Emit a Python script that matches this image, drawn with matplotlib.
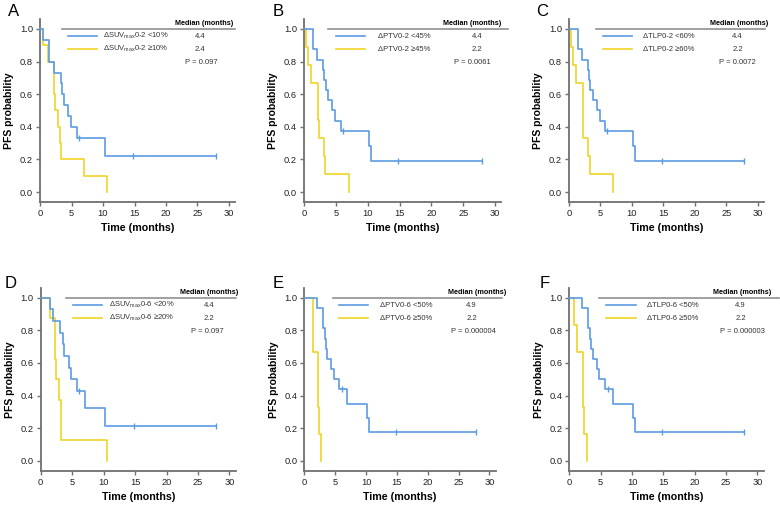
import numpy as np
import matplotlib
matplotlib.use('Agg')
import matplotlib.pyplot as plt

plt.rcParams['font.family'] = ['Liberation Sans', 'DejaVu Sans']
plt.rcParams['mathtext.fontset'] = 'custom'
plt.rcParams['mathtext.rm'] = 'Liberation Sans'
plt.rcParams['mathtext.it'] = 'Liberation Sans:italic'

# ---------------- data ----------------
panel_letters = ['A', 'B', 'C', 'D', 'E', 'F']
legend_low = ['ΔSUV$_{\\rm max}$0-2 <10%', 'ΔPTV0-2 <45%', 'ΔTLP0-2 <60%',
              'ΔSUV$_{\\rm max}$0-6 <20%', 'ΔPTV0-6 <50%', 'ΔTLP0-6 <50%']
legend_high = ['ΔSUV$_{\\rm max}$0-2 ≥10%', 'ΔPTV0-2 ≥45%', 'ΔTLP0-2 ≥60%',
               'ΔSUV$_{\\rm max}$0-6 ≥20%', 'ΔPTV0-6 ≥50%', 'ΔTLP0-6 ≥50%']
median_low = ['4.4', '4.4', '4.4', '4.4', '4.9', '4.9']
median_high = ['2.4', '2.2', '2.2', '2.2', '2.2', '2.2']
p_values = ['P = 0.097', 'P = 0.0061', 'P = 0.0072',
            'P = 0.097', 'P = 0.000004', 'P = 0.000003']
x_ticks = [0, 5, 10, 15, 20, 25, 30]
y_ticks = [0.0, 0.2, 0.4, 0.6, 0.8, 1.0]

# Panel A
A_low_t = [0.5, 1.4, 2.15, 3.3, 3.5, 3.75, 4.45, 4.9, 5.9, 10.3]
A_low_s = [0.933, 0.8, 0.733, 0.667, 0.6, 0.533, 0.467, 0.4, 0.333, 0.222]
A_low_cens = [6.2, 14.8, 27.9]
A_high_t = [0.4, 1.2, 2.2, 2.4, 2.8, 3.1, 3.3, 7.0, 10.6]
A_high_s = [0.9, 0.8, 0.6, 0.5, 0.4, 0.3, 0.2, 0.1, 0.0]

# Panel B
B_low_t = [1.4, 2.05, 2.95, 3.2, 3.4, 3.8, 4.45, 4.85, 5.75, 10.25, 10.5]
B_low_s = [0.875, 0.8125, 0.75, 0.6875, 0.625, 0.5625, 0.5, 0.4375, 0.375, 0.281, 0.1875]
B_low_cens = [6.1, 14.8, 27.9]
B_high_t = [0.3, 0.65, 1.15, 2.2, 2.35, 3.1, 3.35, 7.0]
B_high_s = [0.889, 0.778, 0.667, 0.444, 0.333, 0.222, 0.111, 0.0]

# Panel C
C_low_t = [1.4, 2.05, 2.95, 3.2, 3.4, 3.8, 4.45, 4.85, 5.75, 10.25, 10.5]
C_low_s = [0.875, 0.8125, 0.75, 0.6875, 0.625, 0.5625, 0.5, 0.4375, 0.375, 0.281, 0.1875]
C_low_cens = [6.1, 14.8, 27.9]
C_high_t = [0.25, 0.6, 1.1, 2.15, 2.3, 3.1, 3.35, 7.0]
C_high_s = [0.889, 0.778, 0.667, 0.444, 0.333, 0.222, 0.111, 0.0]

# Panel D
D_low_t = [1.4, 2.0, 3.05, 3.5, 3.7, 4.45, 4.85, 5.7, 7.0, 10.3]
D_low_s = [0.929, 0.857, 0.786, 0.714, 0.643, 0.571, 0.5, 0.429, 0.321, 0.214]
D_low_cens = [6.1, 14.8, 27.9]
D_high_t = [1.4, 2.2, 2.4, 2.9, 3.15, 3.3, 10.6]
D_high_s = [0.875, 0.625, 0.5, 0.375, 0.25, 0.125, 0.0]

# Panel E
E_low_t = [2.0, 3.05, 3.3, 3.45, 3.75, 4.4, 4.8, 5.7, 7.0, 10.2, 10.5]
E_low_s = [0.9375, 0.8125, 0.75, 0.6875, 0.625, 0.5625, 0.5, 0.4375, 0.35, 0.2625, 0.175]
E_low_cens = [6.1, 14.8, 27.9]
E_high_t = [1.35, 2.2, 2.35, 2.75]
E_high_s = [0.667, 0.333, 0.167, 0.0]

# Panel F
F_low_t = [2.0, 3.05, 3.3, 3.45, 3.75, 4.4, 4.8, 5.7, 7.0, 10.2, 10.5]
F_low_s = [0.9375, 0.8125, 0.75, 0.6875, 0.625, 0.5625, 0.5, 0.4375, 0.35, 0.2625, 0.175]
F_low_cens = [6.1, 14.8, 27.9]
F_high_t = [0.7, 1.3, 2.15, 2.3, 2.8]
F_high_s = [0.833, 0.667, 0.333, 0.167, 0.0]

low_t = [A_low_t, B_low_t, C_low_t, D_low_t, E_low_t, F_low_t]
low_s = [A_low_s, B_low_s, C_low_s, D_low_s, E_low_s, F_low_s]
low_cens = [A_low_cens, B_low_cens, C_low_cens, D_low_cens, E_low_cens, F_low_cens]
high_t = [A_high_t, B_high_t, C_high_t, D_high_t, E_high_t, F_high_t]
high_s = [A_high_s, B_high_s, C_high_s, D_high_s, E_high_s, F_high_s]

# ---------------- layout ----------------
W, H = 780, 511
BLUE = '#5B9BE4'
YELLOW = '#F0D428'
SPINE = '#707070'

# left pixel of axis, pixels per month
col_px = [(40, 6.3), (304, 6.37), (569, 6.29), (40.7, 6.29), (304.3, 6.17), (569.3, 6.27)]
row_top = [19.2, 288.0, ]
ax_h_px = 182.6
XMAX = 31
YLIM = (-0.06, 1.06)

# legend layout per panel (data units): line start, line end, seg start, seg end,
# label x, value x, P x, median right x
leg = [
    (3.5, 31.0, 4.4, 9.0, 10.0, 25.4, 25.6, 30.7),
    (3.8, 32.0, 5.0, 9.6, 11.6, 27.2, 26.4, 31.0),
    (4.3, 31.2, 5.4, 10.0, 11.7, 26.8, 26.8, 31.6),
    (4.1, 31.0, 5.1, 9.7, 10.9, 26.8, 26.5, 31.4),
    (4.6, 32.0, 5.6, 10.3, 12.2, 27.1, 27.4, 32.7),
    (4.8, 33.5, 5.9, 10.6, 12.4, 27.3, 27.6, 32.2),
]
letter_px = [(8, 4), (273, 4), (536, 4), (5, 276), (273, 276), (540, 276)]

fig = plt.figure(figsize=(W / 100, H / 100), dpi=100)


def surv_at(t, s, c):
    idx = np.searchsorted(t, c, side='right')
    return 1.0 if idx == 0 else s[idx - 1]


for i in range(6):
    r = i // 3
    lpx, sc = col_px[i]
    top = row_top[r]
    ax = fig.add_axes([lpx / W, 1 - (top + ax_h_px) / H, XMAX * sc / W, ax_h_px / H])
    ax.set_xlim(0, XMAX)
    ax.set_ylim(*YLIM)
    for sp in ['top', 'right']:
        ax.spines[sp].set_visible(False)
    for sp in ['left', 'bottom']:
        ax.spines[sp].set_color(SPINE)
        ax.spines[sp].set_linewidth(1.3)
    ax.set_xticks(x_ticks)
    ax.set_yticks(y_ticks)
    ax.set_yticklabels([f'{v:.1f}' for v in y_ticks])
    ax.tick_params(direction='out', length=3, width=1, color=SPINE,
                   labelsize=6.7, pad=2, labelcolor='#222222')
    ax.set_xlabel('Time (months)', fontsize=7.7, fontweight='bold', labelpad=4)
    ax.set_ylabel('PFS probability', fontsize=7.5, fontweight='bold', labelpad=4)

    # curves
    lt, ls, lc = low_t[i], low_s[i], low_cens[i]
    ht, hs = high_t[i], high_s[i]
    ax.step(np.r_[0, lt, max(lc)], np.r_[1, ls, ls[-1]], where='post',
            color=BLUE, lw=1.2, clip_on=False, zorder=3)
    ax.step(np.r_[0, ht, ht[-1]], np.r_[1, hs, hs[-1]], where='post',
            color=YELLOW, lw=1.2, clip_on=False, zorder=2)
    cy = [surv_at(np.array(lt), ls, c) for c in lc]
    ax.plot(lc, cy, ls='none', marker='|', ms=5, mew=1, color=BLUE, zorder=4)

    # legend table
    l0, l1, s0, s1, tx, vx, px, mx = leg[i]
    ax.plot([l0, l1], [1.0, 1.0], color='#909090', lw=1.2, clip_on=False)
    ax.text(mx, 1.035, 'Median (months)', fontsize=5.2, fontweight='bold',
            ha='right', va='center')
    ax.plot([s0, s1], [0.955, 0.955], color=BLUE, lw=1.2)
    ax.plot([s0, s1], [0.875, 0.875], color=YELLOW, lw=1.2)
    ax.text(tx, 0.955, legend_low[i], fontsize=5.5, ha='left', va='center', color='#333333')
    ax.text(tx, 0.875, legend_high[i], fontsize=5.5, ha='left', va='center', color='#333333')
    ax.text(vx, 0.955, median_low[i], fontsize=5.5, ha='center', va='center', color='#333333')
    ax.text(vx, 0.875, median_high[i], fontsize=5.5, ha='center', va='center', color='#333333')
    ax.text(px, 0.795, p_values[i], fontsize=5.5, ha='center', va='center', color='#333333')

    lx, ly = letter_px[i]
    fig.text(lx / W, 1 - ly / H, panel_letters[i], fontsize=12, ha='left', va='top')

fig.savefig('out.png', dpi=100)
